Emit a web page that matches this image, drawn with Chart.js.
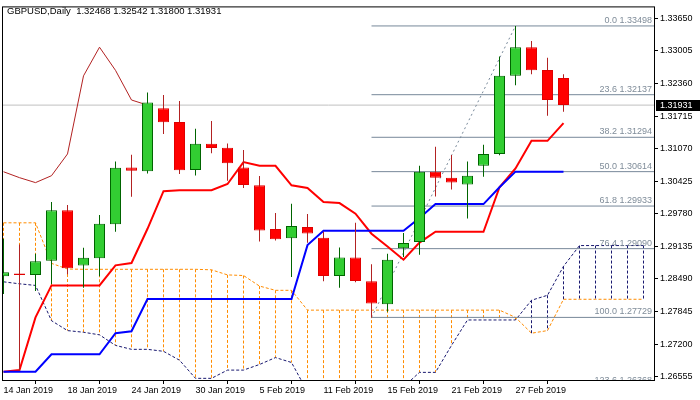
<!DOCTYPE html>
<html>
<head>
<meta charset="utf-8">
<script src="https://cdn.jsdelivr.net/npm/chart.js@4.4.1/dist/chart.umd.min.js"></script>
<style>
  html, body { margin: 0; padding: 0; background: #fff; }
</style>
</head>
<body>
<canvas id="chart" width="700" height="400"></canvas>
<script>
// GBPUSD daily, 14 Jan - 4 Mar 2019, Ichimoku + Fibonacci

const symbol = 'GBPUSD,Daily';
const days = [
  '14 Jan 2019', '15 Jan 2019', '16 Jan 2019', '17 Jan 2019', '18 Jan 2019',
  '21 Jan 2019', '22 Jan 2019', '23 Jan 2019', '24 Jan 2019', '25 Jan 2019',
  '28 Jan 2019', '29 Jan 2019', '30 Jan 2019', '31 Jan 2019', '1 Feb 2019',
  '4 Feb 2019', '5 Feb 2019', '6 Feb 2019', '7 Feb 2019', '8 Feb 2019',
  '11 Feb 2019', '12 Feb 2019', '13 Feb 2019', '14 Feb 2019', '15 Feb 2019',
  '18 Feb 2019', '19 Feb 2019', '20 Feb 2019', '21 Feb 2019', '22 Feb 2019',
  '25 Feb 2019', '26 Feb 2019', '27 Feb 2019', '28 Feb 2019', '1 Mar 2019',
  '4 Mar 2019'
];

const opens = [1.28544, 1.28597, 1.28570, 1.28851, 1.29849, 1.28754, 1.28902, 1.29575, 1.30696, 1.30624,
  1.31870, 1.31596, 1.30647, 1.31166, 1.31087, 1.30696, 1.30344, 1.29477, 1.29294, 1.29516,
  1.29307, 1.28550, 1.28916, 1.28447, 1.27991, 1.29098, 1.29223, 1.30612, 1.30495, 1.30358,
  1.30729, 1.30964, 1.32510, 1.33077, 1.32627, 1.32468];
const highs = [1.29288, 1.29170, 1.28988, 1.30011, 1.29953, 1.29106, 1.29757, 1.30814, 1.30950, 1.32183,
  1.32130, 1.32013, 1.31465, 1.31616, 1.31171, 1.31042, 1.30526, 1.29796, 1.29978, 1.29777,
  1.29425, 1.29112, 1.29601, 1.28779, 1.28988, 1.29399, 1.30729, 1.31107, 1.30945, 1.30814,
  1.31146, 1.32893, 1.33498, 1.33200, 1.32868, 1.32542];
const lows = [1.28192, 1.26666, 1.28251, 1.28388, 1.28583, 1.28315, 1.28544, 1.29425, 1.30115, 1.30579,
  1.31361, 1.30565, 1.30540, 1.30976, 1.30436, 1.30291, 1.29229, 1.29249, 1.28531, 1.29209,
  1.28447, 1.28315, 1.28427, 1.27729, 1.27840, 1.28926, 1.28969, 1.30123, 1.30260, 1.29685,
  1.30514, 1.30937, 1.32326, 1.32541, 1.31719, 1.31800];
const closes = [1.28623, 1.28570, 1.28838, 1.29849, 1.28701, 1.28910, 1.29581, 1.30690, 1.30632, 1.31981,
  1.31590, 1.30643, 1.31166, 1.31081, 1.30780, 1.30350, 1.29450, 1.29274, 1.29536, 1.29391,
  1.28550, 1.28916, 1.28452, 1.28006, 1.28871, 1.29204, 1.30612, 1.30495, 1.30397, 1.30534,
  1.30964, 1.32510, 1.33077, 1.32619, 1.32032, 1.31931];

// Ichimoku lines
const tenkan = [1.26653, 1.26686, 1.27729, 1.28362, 1.28362, 1.28362, 1.28362, 1.28759, 1.28805, 1.29483,
  1.30227, 1.30246, 1.30246, 1.30246, 1.30369, 1.30804, 1.30729, 1.30729, 1.30344, 1.30291,
  1.30011, 1.29992, 1.29783, 1.29385, 1.29131, 1.28871, 1.29209, 1.29425, 1.29425, 1.29425,
  1.29425, 1.30305, 1.30677, 1.31224, 1.31224, 1.31576];
const kijun = [1.26653, 1.26653, 1.26653, 1.26999, 1.26999, 1.26999, 1.26999, 1.27416, 1.27455, 1.28094,
  1.28094, 1.28094, 1.28094, 1.28094, 1.28094, 1.28094, 1.28094, 1.28094, 1.28094, 1.29160,
  1.29444, 1.29444, 1.29444, 1.29444, 1.29444, 1.29444, 1.29698, 1.29972, 1.29972, 1.29972,
  1.29972, 1.30305, 1.30614, 1.30614, 1.30614, 1.30614];
// cloud, runs 5 bars past the last candle
const senkouA = [1.29601, 1.29601, 1.29601, 1.28799, 1.28687, 1.28681, 1.28681, 1.28681, 1.28681, 1.28681,
  1.28681, 1.28681, 1.28681, 1.28671, 1.28570, 1.28558, 1.28349, 1.28265, 1.28265, 1.27873,
  1.27873, 1.27873, 1.27873, 1.27873, 1.27873, 1.27873, 1.27873, 1.27873, 1.27873, 1.27873,
  1.27873, 1.27873, 1.27729, 1.27416, 1.27468, 1.28088, 1.28088, 1.28088, 1.28088, 1.28088,
  1.28088];
const senkouB = [1.28433, 1.28394, 1.28362, 1.27664, 1.27468, 1.27435, 1.27384, 1.27175, 1.27097, 1.27097,
  1.27058, 1.26882, 1.26523, 1.26523, 1.26686, 1.26686, 1.26797, 1.26934, 1.26837, 1.26256,
  1.26197, 1.26197, 1.26197, 1.26197, 1.26197, 1.26353, 1.26641, 1.26641, 1.27175, 1.27678,
  1.27678, 1.27678, 1.27678, 1.28069, 1.28167, 1.28740, 1.29151, 1.29151, 1.29151, 1.29151,
  1.29151];
const chikouShift = 26;

// Fibonacci from the 14 Feb low to the 27 Feb high
const fibLevels = [0.0, 23.6, 38.2, 50.0, 61.8, 76.4, 100.0, 123.6];
const fibPrices = [1.33498, 1.32137, 1.31294, 1.30614, 1.29933, 1.29090, 1.27729, 1.26368];
const fibFrom = 23;
const trendX = [23, 32];
const trendY = [1.27729, 1.33498];

const yTicks = [1.33650, 1.33005, 1.32360, 1.31715, 1.31070, 1.30425, 1.29780, 1.29135, 1.28490, 1.27845, 1.27200, 1.26555];
const xTickIdx = [0, 4, 8, 12, 16, 20, 24, 28, 32];

const X_MIN = -1 / 32, X_MAX = 40.65625;
const Y_MIN = 1.26490, Y_MAX = 1.33865;
const FONT = '"Liberation Sans", Arial, sans-serif';

Chart.defaults.font.family = FONT;
Chart.defaults.font.size = 9;
Chart.defaults.color = '#000';

const idx = opens.map((o, i) => i);
const bull = opens.map((o, i) => closes[i] >= o);
const last = closes.length - 1;

function pts(arr) {
  return arr.map((v, i) => ({ x: i, y: v }));
}

// vertical dashed cloud strokes, broken with nulls
function hatch(upper) {
  const out = [];
  senkouA.forEach((a, i) => {
    const b = senkouB[i];
    const top = upper === 'A' ? a : b, bot = upper === 'A' ? b : a;
    if (top > bot) out.push({ x: i, y: top }, { x: i, y: bot }, { x: i, y: null });
  });
  return out;
}

const fibData = [];
fibPrices.forEach(p => fibData.push({ x: fibFrom, y: p }, { x: X_MAX, y: p }, { x: X_MAX, y: null }));

const lineBase = { type: 'line', pointRadius: 0, tension: 0, fill: false, spanGaps: false, clip: 0 };

const mt4 = {
  id: 'mt4',
  afterDatasetsDraw(chart) {
    const { ctx, chartArea: a, scales: { y } } = chart;
    ctx.save();
    ctx.beginPath();
    ctx.rect(a.left, a.top, a.right - a.left, a.bottom - a.top);
    ctx.clip();
    ctx.font = '9px ' + FONT;
    ctx.fillStyle = '#7F8C99';
    ctx.textAlign = 'right';
    ctx.textBaseline = 'alphabetic';
    fibLevels.forEach((lv, i) => {
      const py = y.getPixelForValue(fibPrices[i]);
      ctx.fillText(lv.toFixed(1) + ' ' + fibPrices[i].toFixed(5), a.right - 2, py - 3);
    });
    ctx.restore();
  },
  afterDraw(chart) {
    const { ctx, chartArea: a, scales: { y } } = chart;
    ctx.save();
    ctx.strokeStyle = '#000';
    ctx.lineWidth = 1;
    ctx.strokeRect(a.left - 0.5, a.top - 0.5, a.right - a.left + 1, a.bottom - a.top + 1);

    ctx.font = '9.5px ' + FONT;
    ctx.fillStyle = '#000';
    ctx.textAlign = 'left';
    ctx.textBaseline = 'middle';
    const head = [opens[last], highs[last], lows[last], closes[last]].map(v => v.toFixed(5)).join(' ');
    ctx.fillText(symbol + '  ' + head, 7, 11);

    const py = Math.round(y.getPixelForValue(closes[last]));
    ctx.fillRect(a.right + 2, py - 5, chart.width - a.right - 2, 11);
    ctx.fillStyle = '#fff';
    ctx.font = '9px ' + FONT;
    ctx.fillText(closes[last].toFixed(5), a.right + 6, py + 0.5);
    ctx.restore();
  }
};

new Chart(document.getElementById('chart'), {
  type: 'bar',
  data: {
    datasets: [
      {
        label: 'bodies',
        data: idx.map(i => ({ x: i, y: [opens[i], closes[i]] })),
        backgroundColor: bull.map(b => b ? '#32CD32' : '#FF0000'),
        borderColor: bull.map(b => b ? '#006400' : '#E00000'),
        borderWidth: 1,
        borderSkipped: false,
        inflateAmount: 0,
        barThickness: 11,
        maxBarThickness: 11,
        grouped: false,
        order: 0
      },
      {
        label: 'wicks',
        data: idx.map(i => ({ x: i, y: [lows[i], highs[i]] })),
        backgroundColor: bull.map(b => b ? '#006400' : '#B22222'),
        borderWidth: 0,
        inflateAmount: 0,
        barThickness: 1,
        maxBarThickness: 1,
        grouped: false,
        order: 1
      },
      { ...lineBase, label: 'Kijun-sen', data: pts(kijun), borderColor: '#0000FF', borderWidth: 2, order: 2 },
      { ...lineBase, label: 'Tenkan-sen', data: pts(tenkan), borderColor: '#FF0000', borderWidth: 2, order: 3 },
      {
        ...lineBase, label: 'Chikou Span',
        data: idx.filter(i => i + chikouShift < closes.length).map(i => ({ x: i, y: closes[i + chikouShift] })),
        borderColor: '#B22222', borderWidth: 1, order: 4
      },
      { ...lineBase, label: 'fibo', data: fibData, borderColor: '#778899', borderWidth: 1, order: 5 },
      {
        ...lineBase, label: 'trend',
        data: trendX.map((x, i) => ({ x: x, y: trendY[i] })),
        borderColor: '#778899', borderWidth: 1, borderDash: [2, 3], order: 5
      },
      { ...lineBase, label: 'Senkou A', data: pts(senkouA), borderColor: '#FF8C00', borderWidth: 1, borderDash: [3, 2], order: 6 },
      { ...lineBase, label: 'Senkou B', data: pts(senkouB), borderColor: '#191970', borderWidth: 1, borderDash: [3, 2], order: 6 },
      { ...lineBase, label: 'cloud up', data: hatch('A'), borderColor: '#FF8C00', borderWidth: 1, borderDash: [3, 2], order: 7 },
      { ...lineBase, label: 'cloud down', data: hatch('B'), borderColor: '#191970', borderWidth: 1, borderDash: [3, 2], order: 7 },
      {
        ...lineBase, label: 'bid',
        data: [{ x: X_MIN, y: closes[last] }, { x: X_MAX, y: closes[last] }],
        borderColor: '#C0C0C0', borderWidth: 1, order: 8
      }
    ]
  },
  options: {
    responsive: false,
    animation: false,
    devicePixelRatio: 1,
    events: [],
    layout: { padding: { left: 3, top: 3, right: 0, bottom: 0 } },
    plugins: { legend: { display: false }, tooltip: { enabled: false } },
    scales: {
      x: {
        type: 'linear',
        min: X_MIN,
        max: X_MAX,
        offset: false,
        afterFit: s => { s.height = 20; },
        afterBuildTicks: s => { s.ticks = xTickIdx.map(v => ({ value: v })); },
        ticks: {
          autoSkip: false,
          maxRotation: 0,
          minRotation: 0,
          align: 'start',
          padding: 1,
          callback: v => days[v] || ''
        },
        grid: { drawOnChartArea: false, drawTicks: true, tickLength: 4, color: '#000' },
        border: { display: true, color: '#000' }
      },
      y: {
        type: 'linear',
        position: 'right',
        min: Y_MIN,
        max: Y_MAX,
        afterFit: s => { s.width = 46; },
        afterBuildTicks: s => { s.ticks = yTicks.map(v => ({ value: v })); },
        ticks: { padding: 2, callback: v => v.toFixed(5) },
        grid: { drawOnChartArea: false, drawTicks: true, tickLength: 4, color: '#000' },
        border: { display: true, color: '#000' }
      }
    }
  },
  plugins: [mt4]
});
</script>
</body>
</html>
